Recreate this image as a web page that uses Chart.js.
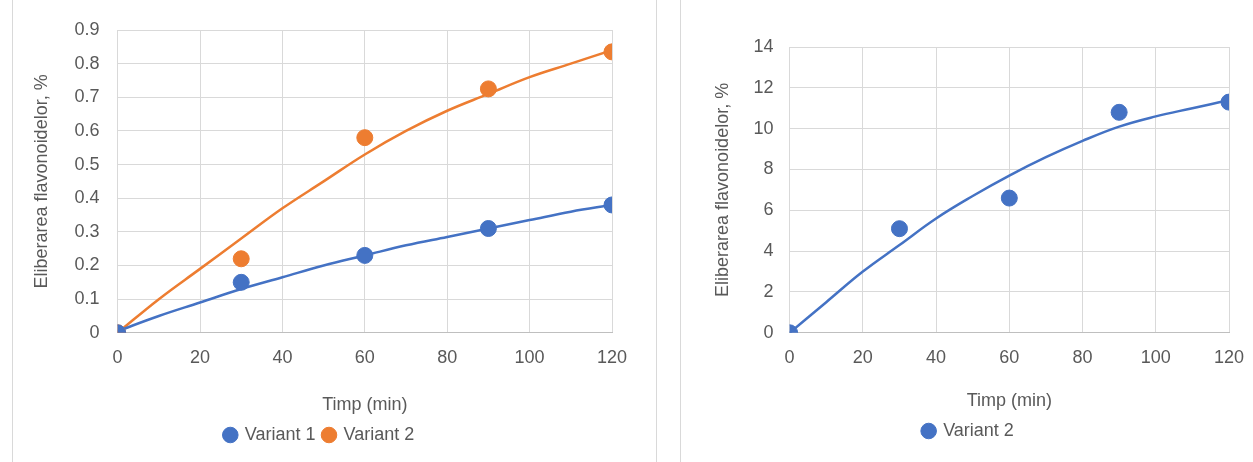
<!DOCTYPE html>
<html><head><meta charset="utf-8">
<script src="https://cdn.jsdelivr.net/npm/chart.js@4"></script>
<style>
body{margin:0;background:#fff;width:1253px;height:462px;position:relative;overflow:hidden}
.box{position:absolute;top:-1px;border:1px solid #d9d9d9;background:#fff}
</style></head><body>
<div class="box" style="left:12px;width:643px;height:470px"><canvas id="c1" width="643" height="462"></canvas></div>
<div class="box" style="left:680px;width:580px;height:470px"><canvas id="c2" width="580" height="462"></canvas></div>
<script>
// date
const timp = [0, 30, 60, 90, 120];
const variant1 = [0, 0.15, 0.23, 0.31, 0.38];
const variant2 = [0, 0.22, 0.58, 0.725, 0.835];
const variant2b = [0, 5.1, 6.6, 10.8, 11.3];
// linii de tendinta
const timpTrend = [0, 10, 20, 30, 40, 50, 60, 70, 80, 90, 100, 110, 120];
const trend1 = [0.005, 0.05, 0.09, 0.13, 0.165, 0.2, 0.23, 0.26, 0.285, 0.31, 0.335, 0.36, 0.38];
const trend2 = [0, 0.1, 0.19, 0.28, 0.37, 0.45, 0.53, 0.6, 0.66, 0.71, 0.76, 0.80, 0.84];
const trend2b = [0, 1.5, 3.0, 4.3, 5.6, 6.7, 7.7, 8.6, 9.4, 10.1, 10.6, 11.0, 11.4];

const albastru = "#4472C4", portocaliu = "#ED7D31";
const font = {family: "'Liberation Sans', sans-serif", size: 18};
const gri = "#595959";

const pct = (xs, ys) => xs.map((x, i) => ({x, y: ys[i]}));
const puncte = (label, ys, c) => ({label, data: pct(timp, ys), showLine: false, backgroundColor: c, borderColor: c, pointRadius: 8, pointHoverRadius: 8, order: 1});
const linie = (ys, c) => ({label: "trend", data: pct(timpTrend, ys), showLine: true, borderColor: c, borderWidth: 2.5, pointRadius: 0, tension: 0.4, fill: false, order: 2});

function optiuni(ymax, step, pad, tickPad, titluSus) {
    return {
        responsive: false, animation: false,
        layout: {padding: pad},
        plugins: {
            legend: {position: "bottom", labels: {usePointStyle: true, pointStyle: "circle", boxWidth: 11, boxHeight: 11, color: gri, font: font, padding: 8,
                filter: i => i.text !== "trend"}},
            tooltip: {enabled: false}
        },
        scales: {
            x: {type: "linear", min: 0, max: 120, ticks: {stepSize: 20, padding: 14, color: gri, font: font}, grid: {color: "#d9d9d9", drawTicks: false}, border: {color: "#bfbfbf"},
                title: {display: true, text: "Timp (min)", color: gri, font: font, padding: {top: titluSus, bottom: 2}}},
            y: {min: 0, max: ymax, ticks: {stepSize: step, padding: tickPad, color: gri, font: font}, grid: {color: "#d9d9d9", drawTicks: false}, border: {display: false},
                title: {display: true, text: "Eliberarea flavonoidelor, %", color: gri, font: font}}
        }
    };
}

new Chart(document.getElementById("c1"), {
    type: "scatter",
    data: {datasets: [puncte("Variant 1", variant1, albastru), puncte("Variant 2", variant2, portocaliu), linie(trend1, albastru), linie(trend2, portocaliu)]},
    options: optiuni(0.9, 0.1, {left: 14, right: 44, top: 30, bottom: 8}, 18, 12)
});
new Chart(document.getElementById("c2"), {
    type: "scatter",
    data: {datasets: [puncte("Variant 2", variant2b, albastru), linie(trend2b, albastru)]},
    options: optiuni(14, 2, {left: 27, right: 32, top: 47, bottom: 12}, 16, 8)
});
</script>
</body></html>
